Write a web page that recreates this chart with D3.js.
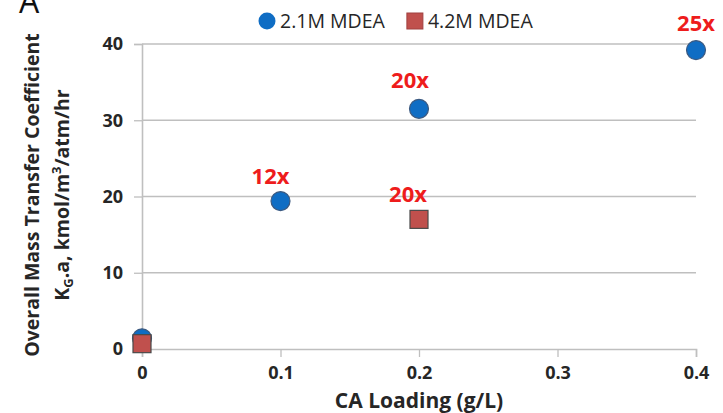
<!DOCTYPE html>
<html><head><meta charset="utf-8">
<script src="https://cdn.jsdelivr.net/npm/d3@7"></script>
<style>body{margin:0;background:#fff;}svg{display:block;font-family:"Open Sans",Lato,sans-serif;}</style>
</head><body><svg id="c" width="723" height="413"></svg>
<script>
const xTicks=[0,0.1,0.2,0.3,0.4];
const yTicks=[0,10,20,30,40];
const s1Name="2.1M MDEA";
const s1x=[0,0.1,0.2,0.4];
const s1y=[1.4,19.4,31.5,39.2];
const s2Name="4.2M MDEA";
const s2x=[0,0.2];
const s2y=[0.7,17.0];
const annText=["12x","20x","20x","25x"];
const annX=[0.1,0.2,0.2,0.4];
const annY=[19.4,31.5,17.0,39.2];

const svg=d3.select("#c");
const x=d3.scaleLinear().domain([0,0.4]).range([142,696]);
const y=d3.scaleLinear().domain([0,40]).range([349,44]);
const grid="#bfbfbf";
const txt="#262626";
// gridlines
svg.append("g").selectAll("line").data(yTicks.filter(d=>d>0)).join("line")
 .attr("x1",x(0)).attr("x2",x(0.4)).attr("y1",d=>y(d)).attr("y2",d=>y(d))
 .attr("stroke",grid).attr("stroke-width",1.3);
// y axis
const ya=svg.append("g").attr("transform",`translate(${x(0)},0)`)
 .call(d3.axisLeft(y).tickValues(yTicks).tickSize(8).tickPadding(11).tickFormat(d3.format("d")));
// x axis
const xa=svg.append("g").attr("transform",`translate(0,${y(0)})`)
 .call(d3.axisBottom(x).tickValues(xTicks).tickSize(8).tickPadding(9).tickFormat(d=>d===0?"0":d3.format(".1f")(d)));
[ya,xa].forEach(a=>{
 a.select(".domain").attr("stroke",grid).attr("stroke-width",1.6);
 a.selectAll(".tick line").attr("stroke",grid).attr("stroke-width",1.3);
 a.selectAll(".tick text").attr("fill",txt).attr("font-size",18).attr("font-weight","bold").attr("font-family","'Open Sans',sans-serif");
});
// points
svg.append("g").selectAll("circle").data(s1x.map((d,i)=>[d,s1y[i]])).join("circle")
 .attr("cx",d=>x(d[0])).attr("cy",d=>y(d[1])).attr("r",9.5)
 .attr("fill","#0f6dc4").attr("stroke","#3d5a80").attr("stroke-width",1.2);
const sq=18;
svg.append("g").selectAll("rect").data(s2x.map((d,i)=>[d,s2y[i]])).join("rect")
 .attr("x",d=>x(d[0])-sq/2).attr("y",d=>y(d[1])-sq/2).attr("width",sq).attr("height",sq)
 .attr("fill","#c0504d").attr("stroke","#4a4a4a").attr("stroke-width",1.2);
// annotations
const dx=[-10,-9,-11,0];
const dy=[-17,-21,-17,-19];
svg.append("g").selectAll("text").data(annText).join("text")
 .attr("x",(d,i)=>x(annX[i])+dx[i]).attr("y",(d,i)=>y(annY[i])+dy[i])
 .attr("text-anchor","middle").attr("fill","#ee1c1c").attr("font-size",22).attr("font-weight","bold")
 .text(d=>d);
// legend
const lg=svg.append("g");
lg.append("circle").attr("cx",267).attr("cy",21).attr("r",8.5).attr("fill","#0f6dc4");
const t1=lg.append("text").attr("x",280).attr("y",28).attr("font-size",19.5).attr("fill",txt).text(s1Name);
const e1=280+t1.node().getComputedTextLength();
lg.append("rect").attr("x",e1+22).attr("y",13).attr("width",16).attr("height",16).attr("fill","#c0504d").attr("stroke","#a04040");
lg.append("text").attr("x",e1+43).attr("y",28).attr("font-size",19.5).attr("fill",txt).text(s2Name);
// axis titles
svg.append("text").attr("x",419).attr("y",408).attr("text-anchor","middle").attr("font-size",21).attr("font-weight","bold").attr("fill",txt).text("CA Loading (g/L)");
const yt=svg.append("text").attr("transform","translate(39,195) rotate(-90)").attr("text-anchor","middle").attr("font-size",19.5).attr("font-weight","bold").attr("fill",txt);
yt.text("Overall Mass Transfer Coefficient");
const yt2=svg.append("text").attr("transform","translate(69,195) rotate(-90)").attr("text-anchor","middle").attr("font-size",19.5).attr("font-weight","bold").attr("fill",txt);
yt2.append("tspan").text("K");
yt2.append("tspan").attr("font-size",13).attr("dy",4).text("G");
yt2.append("tspan").attr("dy",-4).text(".a, kmol/m");
yt2.append("tspan").attr("font-size",13).attr("dy",-8).text("3");
yt2.append("tspan").attr("dy",8).text("/atm/hr");
// panel letter
svg.append("text").attr("x",19).attr("y",13).attr("font-size",32).attr("fill","#111").text("A");
</script></body></html>
